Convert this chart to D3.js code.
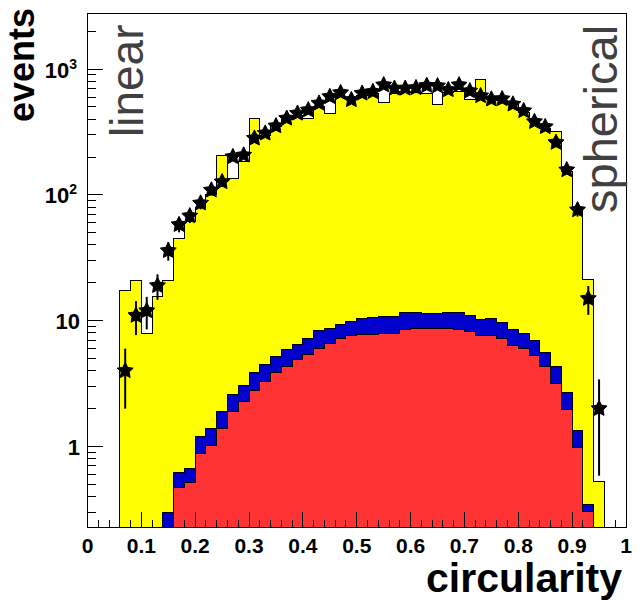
<!DOCTYPE html>
<html>
<head>
<meta charset="utf-8">
<script src="https://cdn.jsdelivr.net/npm/d3@7"></script>
<style>
  html, body { margin: 0; padding: 0; background: #ffffff; }
  svg { display: block; }
</style>
</head>
<body>
<svg id="chart" width="637" height="605"></svg>
<script>
// Histogram binning: low edges of the 0.02-wide circularity bins that hold entries
const binWidth = 0.02;
const binLow = [0.06, 0.08, 0.10, 0.12, 0.14, 0.16, 0.18, 0.20, 0.22, 0.24,
                0.26, 0.28, 0.30, 0.32, 0.34, 0.36, 0.38, 0.40, 0.42, 0.44,
                0.46, 0.48, 0.50, 0.52, 0.54, 0.56, 0.58, 0.60, 0.62, 0.64,
                0.66, 0.68, 0.70, 0.72, 0.74, 0.76, 0.78, 0.80, 0.82, 0.84,
                0.86, 0.88, 0.90, 0.92, 0.94];

// Simulated total (yellow)
const totalMC = [17.5, 20.7, 7.95, 15.5, 20.7, 45, 61, 80, 100, 205,
                 134, 185, 406, 295, 348, 395, 430, 406, 505, 445,
                 610, 600, 615, 635, 540, 640, 660, 650, 642, 522,
                 650, 660, 568, 830, 600, 565, 525, 455, 375, 340,
                 318, 153, 76, 21.1, 0.53];

// Stacked signal: blue component on top of red
const blueStack = [null, null, null, null, 0.298, 0.624, 0.671, 1.20, 1.40, 1.89,
                   2.57, 3.08, 3.86, 4.50, 5.17, 5.85, 6.49, 7.24, 8.33, 8.71,
                   9.25, 9.9, 10.45, 10.6, 10.8, 10.8, 11.7, 11.7, 11.5, 11.5,
                   11.7, 11.7, 10.96, 10.3, 10.45, 9.64, 8.44, 7.94, 6.93, 5.57,
                   4.31, 2.68, 1.33, 0.349, null];
const redPart = [null, null, null, null, null, 0.470, 0.519, 0.883, 1.01, 1.395,
                 1.89, 2.27, 2.81, 3.27, 3.86, 4.31, 4.87, 5.40, 6.04, 6.53,
                 7.24, 7.6, 7.70, 7.70, 7.94, 7.94, 8.54, 8.71, 8.6, 8.6,
                 8.6, 8.5, 8.18, 7.56, 7.56, 7.24, 6.33, 5.96, 5.24, 4.31,
                 3.18, 1.98, 0.985, 0.303, null];

// Measured events per bin
const dataCounts = [4, 11, 12, 19, 36, 58, 68, 86, 109, 127,
                    201, 207, 282, 309, 353, 406, 445, 473, 535, 604,
                    649, 570, 642, 661, 748, 703, 703, 710, 740, 735,
                    685, 748, 670, 613, 577, 580, 526, 466, 382, 348,
                    261, 158, 76, 15, 2];

// Axis ticks and labels
const xTickValues = [0, 0.1, 0.2, 0.3, 0.4, 0.5, 0.6, 0.7, 0.8, 0.9, 1];
const xTickLabels = ["0", "0.1", "0.2", "0.3", "0.4", "0.5", "0.6", "0.7", "0.8", "0.9", "1"];
const yDecades = [1, 10, 100, 1000];
const yDecadeLabels = [["1", ""], ["10", ""], ["10", "2"], ["10", "3"]];

const svg = d3.select("#chart");
const frame = { left: 87.5, right: 626, top: 13, bottom: 527.5 };

const x = d3.scaleLinear().domain([0, 1]).range([frame.left, frame.right]);
const y = d3.scaleLog().domain([0.227, 2792]).range([frame.bottom, frame.top]).clamp(true);

svg.append("rect").attr("width", 637).attr("height", 605).attr("fill", "#ffffff");

// Step outline of a histogram, closed along the frame bottom
function stepPath(values) {
  const p = d3.path();
  let open = false, lastX = 0;
  values.forEach((v, i) => {
    const x0 = x(binLow[i]), x1 = x(binLow[i] + binWidth);
    if (v == null || v <= 0) {
      if (open) { p.lineTo(x0, frame.bottom); p.closePath(); open = false; }
      return;
    }
    if (!open) { p.moveTo(x0, frame.bottom); open = true; }
    p.lineTo(x0, y(v));
    p.lineTo(x1, y(v));
    lastX = x1;
  });
  if (open) { p.lineTo(lastX, frame.bottom); p.closePath(); }
  return p.toString();
}

const plot = svg.append("g");

const histLayers = [
  { values: totalMC, fill: "#ffff00" },
  { values: blueStack, fill: "#0000cc" },
  { values: redPart, fill: "#ff3333" }
];
plot.selectAll("path.hist")
  .data(histLayers)
  .join("path")
  .attr("class", "hist")
  .attr("d", d => stepPath(d.values))
  .attr("fill", d => d.fill)
  .attr("stroke", "#000")
  .attr("stroke-width", 1)
  .attr("shape-rendering", "crispEdges");

// Data points with Poisson error bars
const points = dataCounts.map((n, i) => ({ cx: binLow[i] + binWidth / 2, n }));
plot.selectAll("line.err")
  .data(points)
  .join("line")
  .attr("class", "err")
  .attr("x1", d => x(d.cx)).attr("x2", d => x(d.cx))
  .attr("y1", d => y(d.n + Math.sqrt(d.n)))
  .attr("y2", d => y(Math.max(d.n - Math.sqrt(d.n), 1e-3)))
  .attr("stroke", "#000")
  .attr("stroke-width", 2);

// Plump five-pointed star marker (outer radius from size, inner radius half of it)
const fatStar = {
  draw(context, size) {
    const r = Math.sqrt(size), ri = r * 0.5;
    for (let k = 0; k < 10; k++) {
      const a = -Math.PI / 2 + k * Math.PI / 5;
      const rr = k % 2 === 0 ? r : ri;
      const px = rr * Math.cos(a), py = rr * Math.sin(a);
      if (k === 0) context.moveTo(px, py); else context.lineTo(px, py);
    }
    context.closePath();
  }
};
const star = d3.symbol().type(fatStar).size(70);
plot.selectAll("path.pt")
  .data(points)
  .join("path")
  .attr("class", "pt")
  .attr("d", star)
  .attr("transform", d => `translate(${x(d.cx)},${y(d.n)})`)
  .attr("fill", "#000")
  .attr("stroke", "#000")
  .attr("stroke-width", 1)
  .attr("stroke-linejoin", "round");

// Frame
svg.append("rect")
  .attr("x", frame.left).attr("y", frame.top)
  .attr("width", frame.right - frame.left).attr("height", frame.bottom - frame.top)
  .attr("fill", "none").attr("stroke", "#000").attr("stroke-width", 1)
  .attr("shape-rendering", "crispEdges");

// X axis ticks (pointing inward)
const xMinor = d3.range(0, 51).map(k => k / 50);
svg.append("g").selectAll("line")
  .data(xMinor)
  .join("line")
  .attr("x1", d => x(d)).attr("x2", d => x(d))
  .attr("y1", frame.bottom)
  .attr("y2", (d, i) => frame.bottom - (i % 5 === 0 ? 16 : 8))
  .attr("stroke", "#000").attr("stroke-width", 1)
  .attr("shape-rendering", "crispEdges");

svg.append("g").selectAll("text")
  .data(xTickValues)
  .join("text")
  .attr("x", d => x(d))
  .attr("y", 553)
  .attr("text-anchor", "middle")
  .attr("font-family", "Liberation Sans, Arial, sans-serif")
  .attr("font-weight", "bold")
  .attr("font-size", 21)
  .attr("fill", "#000")
  .text((d, i) => xTickLabels[i]);

// Y axis ticks: decades long, 2..9 short
const yMinor = [];
[0.1, 1, 10, 100, 1000].forEach(dec => {
  for (let m = 2; m <= 9; m++) {
    const v = dec * m;
    if (v > 0.227 && v < 2792) yMinor.push(v);
  }
});
const yTicks = yDecades.map(v => ({ v, len: 15 })).concat(yMinor.map(v => ({ v, len: 8.5 })));
svg.append("g").selectAll("line")
  .data(yTicks)
  .join("line")
  .attr("x1", frame.left).attr("x2", d => frame.left + d.len)
  .attr("y1", d => y(d.v)).attr("y2", d => y(d.v))
  .attr("stroke", "#000").attr("stroke-width", 1)
  .attr("shape-rendering", "crispEdges");

const yLab = svg.append("g").selectAll("text")
  .data(yDecades)
  .join("text")
  .attr("x", (d, i) => yDecadeLabels[i][1] ? 77 : 80)
  .attr("y", d => y(d) + 8.5)
  .attr("text-anchor", "end")
  .attr("font-family", "Liberation Sans, Arial, sans-serif")
  .attr("font-weight", "bold")
  .attr("font-size", 22)
  .attr("fill", "#000");
yLab.append("tspan").text((d, i) => yDecadeLabels[i][0]);
yLab.append("tspan")
  .attr("dy", -9)
  .attr("font-size", 14)
  .text((d, i) => yDecadeLabels[i][1]);

// Axis titles
svg.append("text")
  .attr("transform", "translate(34,8) rotate(-90)")
  .attr("text-anchor", "end")
  .attr("font-family", "Liberation Sans, Arial, sans-serif")
  .attr("font-weight", "bold")
  .attr("font-size", 36)
  .attr("fill", "#000")
  .text("events");

svg.append("text")
  .attr("x", 622).attr("y", 592)
  .attr("text-anchor", "end")
  .attr("font-family", "Liberation Sans, Arial, sans-serif")
  .attr("font-weight", "bold")
  .attr("font-size", 41)
  .attr("fill", "#000")
  .text("circularity");

// Shape annotations at both ends of the range
svg.append("text")
  .attr("transform", "translate(143,137) rotate(-90)")
  .attr("font-family", "Liberation Sans, Arial, sans-serif")
  .attr("font-size", 46)
  .attr("fill", "#404040")
  .text("linear");

svg.append("text")
  .attr("transform", "translate(617,213) rotate(-90)")
  .attr("font-family", "Liberation Sans, Arial, sans-serif")
  .attr("font-size", 47)
  .attr("fill", "#404040")
  .text("spherical");
</script>
</body>
</html>
